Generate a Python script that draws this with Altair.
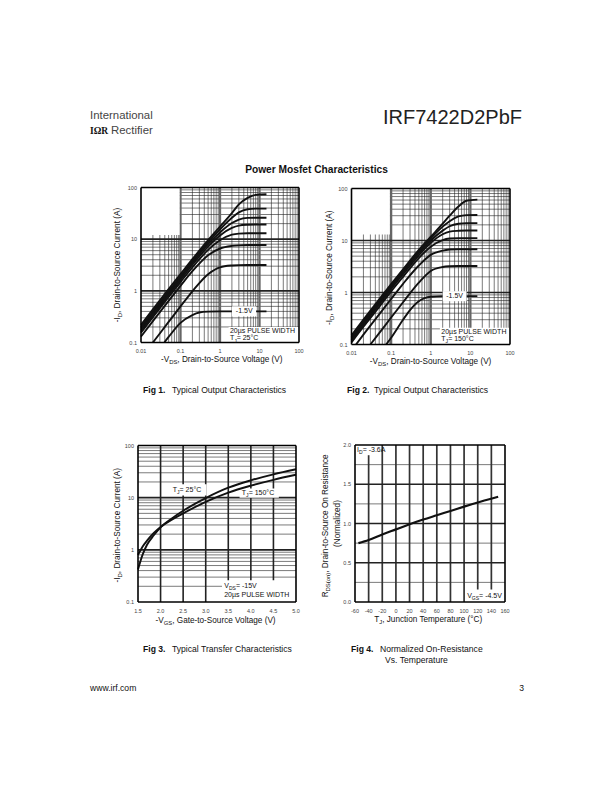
import altair as alt
import pandas as pd

W, H = 612, 792
FONT = "Liberation Sans"
INK = "#111111"
GRID = "#222222"
LBL = "#444444"

# ---------------- data ----------------
VGS_LEVELS = ["-7.5V", "-5.0V", "-4.5V", "-3.5V", "-3.0V", "-2.5V", "-2.0V", "-1.5V"]
X_STD = [0.01, 0.02, 0.05, 0.1, 0.2, 0.5, 1, 2, 3, 5, 8, 15]

# Fig 1 : TJ = 25C
F1_X = {
    "-7.5V": X_STD, "-5.0V": X_STD, "-4.5V": X_STD, "-3.5V": X_STD,
    "-3.0V": X_STD, "-2.5V": X_STD,
    "-2.0V": [0.02, 0.05, 0.1, 0.2, 0.5, 1, 2, 3, 5, 8, 15],
    "-1.5V": [0.039, 0.05, 0.1, 0.2, 0.3, 0.5, 1, 2, 5, 8, 15],
}
F1_Y = {
    "-7.5V": [0.22, 0.44, 1.08, 2.1, 4.1, 9.6, 17.5, 32, 47, 63, 72, 74],
    "-5.0V": [0.20, 0.40, 0.98, 1.9, 3.8, 8.8, 15.5, 26, 33, 38, 39, 39],
    "-4.5V": [0.185, 0.37, 0.90, 1.78, 3.5, 8.0, 13.5, 20.5, 24, 25.8, 26, 26],
    "-3.5V": [0.17, 0.34, 0.83, 1.63, 3.2, 7.2, 11.8, 16.5, 18.3, 19, 19.2, 19.2],
    "-3.0V": [0.155, 0.31, 0.76, 1.48, 2.85, 6.2, 9.5, 12.2, 12.8, 13, 13, 13],
    "-2.5V": [0.13, 0.26, 0.64, 1.25, 2.4, 4.9, 6.6, 7.4, 7.6, 7.7, 7.7, 7.7],
    "-2.0V": [0.1, 0.25, 0.5, 0.98, 2.1, 2.85, 3.1, 3.15, 3.16, 3.16, 3.16],
    "-1.5V": [0.1, 0.128, 0.24, 0.34, 0.38, 0.395, 0.4, 0.4, 0.4, 0.4, 0.4],
}

# Fig 2 : TJ = 150C
F2_X = {
    "-7.5V": X_STD, "-5.0V": X_STD, "-4.5V": X_STD, "-3.5V": X_STD,
    "-3.0V": X_STD,
    "-2.5V": [0.013, 0.02, 0.05, 0.1, 0.2, 0.5, 1, 2, 3, 5, 8, 15],
    "-2.0V": [0.03, 0.05, 0.1, 0.2, 0.5, 1, 2, 3, 5, 8, 15],
    "-1.5V": [0.075, 0.1, 0.2, 0.3, 0.5, 0.7, 1, 2, 5, 8, 15],
}
F2_Y = {
    "-7.5V": [0.15, 0.30, 0.74, 1.45, 2.8, 6.6, 11.8, 21, 30, 45, 58, 61],
    "-5.0V": [0.14, 0.28, 0.69, 1.36, 2.65, 6.2, 11, 18.5, 23.5, 29, 30.8, 31],
    "-4.5V": [0.13, 0.26, 0.64, 1.27, 2.45, 5.7, 10, 15.5, 18.8, 21, 21.6, 21.6],
    "-3.5V": [0.12, 0.24, 0.59, 1.17, 2.25, 5.2, 9, 13.2, 14.8, 15.4, 15.6, 15.6],
    "-3.0V": [0.11, 0.22, 0.53, 1.05, 2.0, 4.6, 7.6, 10.2, 10.9, 11.1, 11.1, 11.1],
    "-2.5V": [0.1, 0.155, 0.38, 0.75, 1.47, 3.3, 5.3, 6.4, 6.7, 6.8, 6.8, 6.8],
    "-2.0V": [0.1, 0.165, 0.33, 0.65, 1.55, 2.6, 3.1, 3.2, 3.24, 3.24, 3.24],
    "-1.5V": [0.1, 0.135, 0.3, 0.46, 0.68, 0.78, 0.83, 0.85, 0.85, 0.85, 0.85],
}

# Fig 3 : transfer characteristics
F3_VGS = [1.5, 1.6, 1.7, 1.85, 2.0, 2.25, 2.5, 3.0, 3.5, 4.0, 4.5, 5.0]
F3_ID_25 = [0.42, 0.8, 1.25, 1.9, 2.7, 4.0, 5.6, 9.8, 15.5, 21.5, 28, 35]
F3_ID_150 = [0.8, 1.15, 1.5, 2.1, 2.75, 3.8, 5.0, 8.3, 12.5, 17, 22, 27.5]

# Fig 4 : normalized on-resistance vs temperature
F4_T = [-55, -40, -20, 0, 20, 40, 60, 80, 100, 125, 150]
F4_R = [0.75, 0.79, 0.86, 0.925, 0.99, 1.05, 1.105, 1.16, 1.215, 1.28, 1.34]

# tick values and their labels
LOG_X_TICKS = [0.01, 0.1, 1, 10, 100]
LOG_X_LABELS = ["0.01", "0.1", "1", "10", "100"]
LOG_Y_TICKS = [0.1, 1, 10, 100]
LOG_Y_LABELS = ["0.1", "1", "10", "100"]
F3_X_TICKS = [1.5, 2.0, 2.5, 3.0, 3.5, 4.0, 4.5, 5.0]
F3_X_LABELS = ["1.5", "2.0", "2.5", "3.0", "3.5", "4.0", "4.5", "5.0"]
F4_X_TICKS = [-60, -40, -20, 0, 20, 40, 60, 80, 100, 120, 140, 160]
F4_X_LABELS = ["-60", "-40", "-20", "0", "20", "40", "60", "80", "100", "120", "140", "160"]
F4_Y_TICKS = [0.0, 0.5, 1.0, 1.5, 2.0]
F4_Y_LABELS = ["0.0", "0.5", "1.0", "1.5", "2.0"]


def minor_log(lo_exp, hi_exp):
    return [m * 10.0 ** e for e in range(lo_exp, hi_exp) for m in range(2, 10)]


# Arial / Liberation Sans advance widths (em) used to lay out rich text runs
CW = {" ": .278, "!": .278, "(": .333, ")": .333, ",": .278, "-": .333, ".": .278,
      "=": .584, "\u00b0": .4, "\u00b5": .577, "/": .278}
for c in "0123456789":
    CW[c] = .556
CW.update(dict(zip("ABCDEFGHIJKLMNOPQRSTUVWXYZ",
                   [.667, .667, .722, .722, .667, .611, .778, .722, .278, .5, .667, .556, .833,
                    .722, .778, .667, .778, .722, .667, .611, .722, .667, .944, .667, .667, .611])))
CW.update(dict(zip("abcdefghijklmnopqrstuvwxyz",
                   [.556, .556, .5, .556, .556, .278, .556, .556, .222, .222, .5, .222, .833,
                    .556, .556, .556, .556, .333, .5, .278, .556, .5, .722, .5, .5, .5])))


def twidth(t, size):
    return sum(CW.get(c, .556) for c in t) * size


def rich(df, enc, segs, align="left", angle=0, color=INK):
    """segs: list of (text, size, baseline_shift)."""
    widths = [twidth(t, s) for t, s, _ in segs]
    total = sum(widths)
    pos = {"left": 0, "center": -total / 2, "right": -total}[align]
    out = []
    for (t, s, sh), w in zip(segs, widths):
        d = df.copy()
        d["t"] = t
        kw = dict(align="left", baseline="middle", font=FONT, fontSize=s, color=color,
                  dx=round(pos, 2))
        if sh:
            kw["dy"] = sh
        if angle:
            kw["angle"] = angle
        out.append(alt.Chart(d).mark_text(**kw).encode(text="t:N", **enc))
        pos += w
    return out


def sub(main, subs, rest, size=7.0):
    return [(main, size, 0), (subs, round(size * 0.72, 2), round(size * 0.3, 2)), (rest, size, 0)]


def px_enc():
    return dict(x=alt.X("px:Q", scale=None, axis=None), y=alt.Y("py:Q", scale=None, axis=None))


def px_df(x, y):
    return pd.DataFrame({"px": [x], "py": [y]})


# ---------------- panel builder ----------------
def curves_df(xd, yd):
    rows = []
    for k in xd:
        for x, y in zip(xd[k], yd[k]):
            rows.append({"curve": k, "x": x, "y": y})
    return pd.DataFrame(rows)


def panel(cdf, xdom, ydom, box, xtype, ytype, xthin, xthick, ythin, ythick,
          xticks, xlabels, yticks, ylabels, boxes_under, boxes_over, texts,
          lw=1.9, xthick_style=(1.7, "#333333"), ythick_style=(1.7, "#222222")):
    L, R, T, B = box
    xs = alt.Scale(type=xtype, domain=xdom, range=[L, R], nice=False, zero=False)
    ys = alt.Scale(type=ytype, domain=ydom, range=[B, T], nice=False, zero=False)
    layers = []

    def vrules(vals, w, col):
        d = pd.DataFrame({"v": vals, "a": ydom[0], "b": ydom[1]})
        return alt.Chart(d).mark_rule(color=col, strokeWidth=w).encode(
            x=alt.X("v:Q", scale=xs, axis=None),
            y=alt.Y("a:Q", scale=ys, axis=None), y2=alt.Y2("b:Q"))

    def hrules(vals, w, col):
        d = pd.DataFrame({"v": vals, "a": xdom[0], "b": xdom[1]})
        return alt.Chart(d).mark_rule(color=col, strokeWidth=w).encode(
            y=alt.Y("v:Q", scale=ys, axis=None),
            x=alt.X("a:Q", scale=xs, axis=None), x2=alt.X2("b:Q"))

    def rects(lst):
        d = pd.DataFrame(lst, columns=["x0", "x1", "y0", "y1"])
        return alt.Chart(d).mark_rect(color="white").encode(
            x=alt.X("x0:Q", scale=xs, axis=None), x2="x1:Q",
            y=alt.Y("y0:Q", scale=ys, axis=None), y2="y1:Q")

    if xthin:
        layers.append(vrules(xthin, 0.6, GRID))
    if ythin:
        layers.append(hrules(ythin, 0.6, GRID))
    if xthick:
        layers.append(vrules(xthick, *xthick_style))
    if ythick:
        layers.append(hrules(ythick, *ythick_style))
    if boxes_under:
        layers.append(rects(boxes_under))
    layers.append(alt.Chart(cdf).mark_line(color=INK, strokeWidth=lw, interpolate="monotone").encode(
        x=alt.X("x:Q", scale=xs, axis=None),
        y=alt.Y("y:Q", scale=ys, axis=None),
        detail="curve:N"))
    if boxes_over:
        layers.append(rects(boxes_over))
    layers.append(vrules(list(xdom), 1.6, "#000000"))
    layers.append(hrules(list(ydom), 1.6, "#000000"))

    # tick labels, placed through the panel scales
    dx_ = pd.DataFrame({"v": xticks, "lab": xlabels, "a": ydom[0]})
    layers.append(alt.Chart(dx_).mark_text(align="center", baseline="middle", dy=8.5, font=FONT,
                                           fontSize=5.5, color=LBL).encode(
        x=alt.X("v:Q", scale=xs, axis=None), y=alt.Y("a:Q", scale=ys, axis=None), text="lab:N"))
    dy_ = pd.DataFrame({"v": yticks, "lab": ylabels, "a": xdom[0]})
    layers.append(alt.Chart(dy_).mark_text(align="right", baseline="middle", dx=-4, font=FONT,
                                           fontSize=5.5, color=LBL).encode(
        x=alt.X("a:Q", scale=xs, axis=None), y=alt.Y("v:Q", scale=ys, axis=None), text="lab:N"))

    enc = dict(x=alt.X("x:Q", scale=xs, axis=None), y=alt.Y("y:Q", scale=ys, axis=None))
    for (tx, ty, segs, align) in texts:
        layers += rich(pd.DataFrame({"x": [tx], "y": [ty]}), enc, segs, align=align)
    return alt.layer(*layers)


# ---------------- panels ----------------
P1 = (141, 299, 187.5, 342.5)
P2 = (351.5, 510, 188.5, 344.5)
P3 = (138, 296, 445.5, 602)
P4 = (355, 505, 445, 602)

LOGX_THIN = minor_log(-2, 2)
LOGY_THIN = minor_log(-1, 2)
PW = "20\u00b5s PULSE WIDTH"
DEC_V = (2.3, "#666666")

fig1 = panel(curves_df(F1_X, F1_Y), [0.01, 100], [0.1, 100], P1, "log", "log",
             LOGX_THIN, [0.1, 1, 10], LOGY_THIN, [1, 10],
             LOG_X_TICKS, LOG_X_LABELS, LOG_Y_TICKS, LOG_Y_LABELS,
             boxes_under=[(0.01, 0.095, 12.0, 100), (1.65, 100, 0.1, 0.2)],
             boxes_over=[(2.0, 8.2, 0.32, 0.5)],
             texts=[(4.1, 0.40, [("-1.5V", 7, 0)], "center"),
                    (1.78, 0.165, [(PW, 7, 0)], "left"),
                    (1.78, 0.12, sub("T", "J", " = 25\u00b0C"), "left")],
             xthick_style=DEC_V)

fig2 = panel(curves_df(F2_X, F2_Y), [0.01, 100], [0.1, 100], P2, "log", "log",
             LOGX_THIN, [0.1, 1, 10], LOGY_THIN, [1, 10],
             LOG_X_TICKS, LOG_X_LABELS, LOG_Y_TICKS, LOG_Y_LABELS,
             boxes_under=[(0.01, 0.093, 13.0, 100), (1.7, 100, 0.1, 0.21)],
             boxes_over=[(2.0, 8.0, 0.68, 1.06)],
             texts=[(4.0, 0.85, [("-1.5V", 7, 0)], "center"),
                    (1.85, 0.176, [(PW, 7, 0)], "left"),
                    (1.85, 0.128, sub("T", "J", " = 150\u00b0C"), "left")],
             xthick_style=DEC_V)

f3 = pd.concat([
    pd.DataFrame({"curve": "25C", "x": F3_VGS, "y": F3_ID_25}),
    pd.DataFrame({"curve": "150C", "x": F3_VGS, "y": F3_ID_150}),
])
fig3 = panel(f3, [1.5, 5.0], [0.1, 100], P3, "linear", "log",
             None, [2.0, 2.5, 3.0, 3.5, 4.0, 4.5], LOGY_THIN, [1, 10],
             F3_X_TICKS, F3_X_LABELS, LOG_Y_TICKS, LOG_Y_LABELS,
             boxes_under=[(2.22, 3.02, 11.0, 18.0), (3.75, 4.62, 10.0, 15.0),
                          (3.36, 5.0, 0.1, 0.26)],
             boxes_over=None,
             texts=[(2.27, 14.0, sub("T", "J", " = 25\u00b0C"), "left"),
                    (3.8, 12.3, sub("T", "J", " = 150\u00b0C"), "left"),
                    (3.41, 0.205, sub("V", "DS", " = -15V"), "left"),
                    (3.41, 0.137, [(PW, 7, 0)], "left")],
             xthick_style=(1.6, "#222222"))

f4 = pd.DataFrame({"curve": "r", "x": F4_T, "y": F4_R})
fig4 = panel(f4, [-60, 160], [0.0, 2.0], P4, "linear", "linear",
             None, [-40, -20, 0, 20, 40, 60, 80, 100, 120, 140],
             [0.25, 0.75, 1.25, 1.75], [0.5, 1.0, 1.5],
             F4_X_TICKS, F4_X_LABELS, F4_Y_TICKS, F4_Y_LABELS,
             boxes_under=[(-60, -22, 1.87, 2.0), (102, 160, 0.0, 0.16)],
             boxes_over=None,
             texts=[(-57, 1.935, sub("I", "D", " = -3.6A"), "left"),
                    (104.5, 0.076, sub("V", "GS", " = -4.5V"), "left")],
             lw=2.2)


# ---------------- page text ----------------
def page_text(rows, size, weight="normal", align="left", color=INK, font=FONT):
    d = pd.DataFrame(rows, columns=["px", "py", "t"])
    return alt.Chart(d).mark_text(align=align, baseline="middle", fontSize=size,
                                  fontWeight=weight, color=color, font=font).encode(
        text="t:N", **px_enc())


TS = 8.2  # axis title size
texts = [
    page_text([(90, 116, "International")], 11.4, color="#444444"),
    page_text([(90, 131, "I\u03a9R")], 9.5, weight="bold", font="Liberation Serif"),
    page_text([(111, 131, "Rectifier")], 11.4, color="#444444"),
    page_text([(522, 117.5, "IRF7422D2PbF")], 20, align="right", color="#222222"),
    page_text([(316.5, 170, "Power Mosfet Characteristics")], 10.2, weight="bold", align="center"),
    page_text([(143, 390, "Fig 1."), (347, 390, "Fig 2."), (143, 649, "Fig 3."), (351, 649, "Fig 4.")],
              8.6, weight="bold"),
    page_text([(172, 390, "Typical Output Characteristics"),
               (374, 390, "Typical Output Characteristics"),
               (172, 649, "Typical Transfer Characteristics"),
               (380, 649, "Normalized On-Resistance"),
               (385, 660, "Vs. Temperature"),
               (90, 688, "www.irf.com")], 8.6),
    page_text([(524, 688, "3")], 8.6, align="right"),
    # Fig 1 / Fig 2 legends
    page_text([(177.3, 190.7, "VGS"), (388, 191, "VGS")] +
              [(177.3, 195 + i * 5.24, v) for i, v in enumerate(VGS_LEVELS)] +
              [(388, 196.7 + i * 5.23, v) for i, v in enumerate(VGS_LEVELS)],
              4.4, weight="bold", align="right"),
    page_text([(144.7, 195, "TOP"), (144.7, 231.7, "BOTTOM"),
               (354.7, 196.7, "TOP"), (354.7, 233.3, "BOTTOM")],
              4.4, weight="bold"),
]

# axis titles (with subscripts)
titles = []
titles += rich(px_df(222, 359.5), px_enc(), sub("-V", "DS", ", Drain-to-Source Voltage (V)", TS), "center")
titles += rich(px_df(432, 362), px_enc(), sub("-V", "DS", " , Drain-to-Source Voltage (V)", TS), "center")
titles += rich(px_df(217, 621), px_enc(), sub("-V", "GS", " , Gate-to-Source Voltage (V)", TS), "center")
titles += rich(px_df(430, 620), px_enc(), sub("T", "J", " , Junction Temperature (\u00b0C)", TS), "center")
titles += rich(px_df(118, 265), px_enc(), sub("-I", "D", ", Drain-to-Source Current (A)", TS), "center", angle=270)
titles += rich(px_df(330, 266.5), px_enc(), sub("-I", "D", " , Drain-to-Source Current (A)", TS), "center", angle=270)
titles += rich(px_df(118, 524), px_enc(), sub("-I", "D", " , Drain-to-Source Current (A)", TS), "center", angle=270)
titles += rich(px_df(326, 523.5), px_enc(), sub("R", "DS(on)", " ,  Drain-to-Source On Resistance", TS), "center", angle=270)
titles += rich(px_df(338, 523.5), px_enc(), [("(Normalized)", TS, 0)], "center", angle=270)

chart = alt.layer(*texts, *titles, fig1, fig2, fig3, fig4).resolve_scale(
    x="independent", y="independent"
).properties(
    width=W, height=H, padding=0, background="white",
    autosize=alt.AutoSizeParams(type="none")
).configure_view(stroke=None)

chart.save("out.html", embed_options={"renderer": "svg", "actions": False})
